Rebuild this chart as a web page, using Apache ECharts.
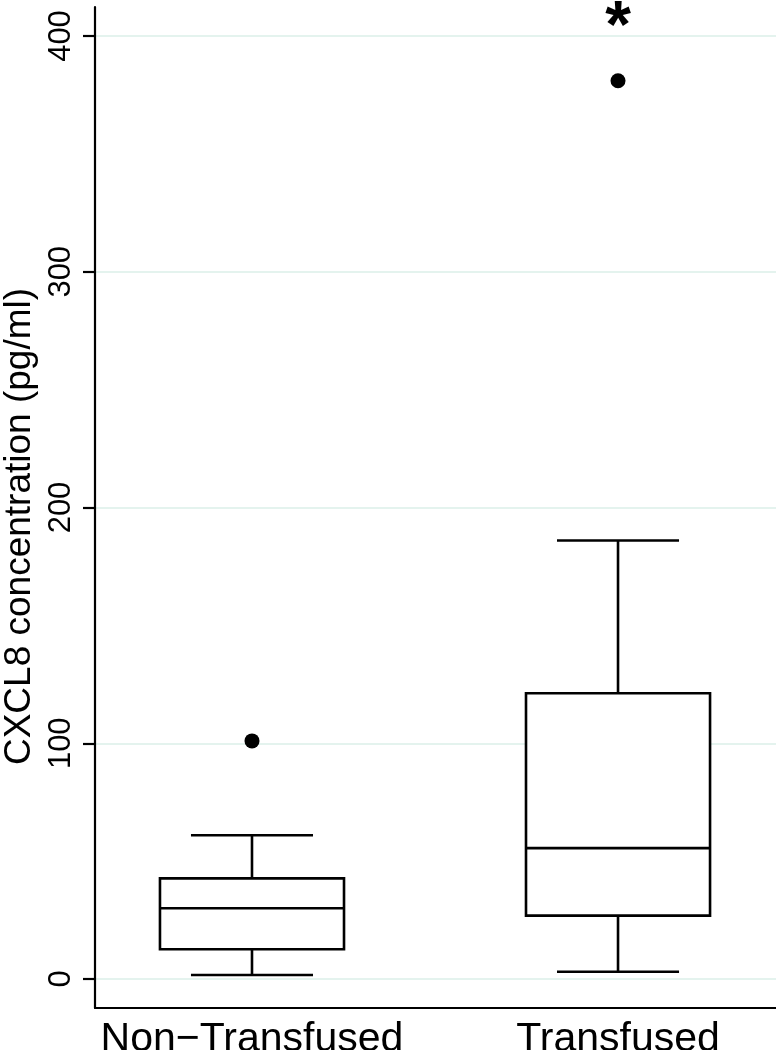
<!DOCTYPE html>
<html>
<head>
<meta charset="utf-8">
<script src="https://cdn.jsdelivr.net/npm/echarts@6/dist/echarts.min.js"></script>
<style>
html,body{margin:0;padding:0;background:#fff;}
#chart{width:776px;height:1050px;}
</style>
</head>
<body>
<div id="chart"></div>
<script>
// ---- data ----
var categories = ['Non\u2212Transfused', 'Transfused'];
var lowWhisker = [1.7, 3.1];
var q1 = [12.6, 26.9];
var median = [30.0, 55.5];
var q3 = [42.7, 121.2];
var highWhisker = [61.0, 186.0];
var outliers = [[0, 101], [1, 381]];
var yTicks = [0, 100, 200, 300, 400];
var annotations = [[1, 403, '*']];
var yTitle = 'CXCL8 concentration (pg/ml)';

var boxData = categories.map(function (c, i) {
  return [i, lowWhisker[i], q1[i], median[i], q3[i], highWhisker[i]];
});

var FONT = "'Liberation Sans', Helvetica, Arial, sans-serif";
var BOX_HALF = 0.2514;
var CAP_HALF = 0.1667;
var LW = 2.6;

var chart = echarts.init(document.getElementById('chart'), null, {renderer: 'canvas'});

chart.setOption({
  backgroundColor: '#ffffff',
  animation: false,
  grid: {left: 95, right: 0, top: 7, bottom: 42, containLabel: false, outerBoundsMode: 'none'},
  xAxis: {
    type: 'value',
    min: -0.4289,
    max: 1.4316,
    axisLine: {show: true, onZero: false, lineStyle: {color: '#000', width: 2.2}},
    axisTick: {show: false},
    splitLine: {show: false},
    axisLabel: {
      customValues: [0, 1],
      formatter: function (v) { return categories[Math.round(v)]; },
      color: '#000', fontFamily: FONT, fontSize: 41, margin: 11
    }
  },
  yAxis: {
    type: 'value',
    min: -12.3,
    max: 412.3,
    name: yTitle,
    nameLocation: 'middle',
    nameGap: 57,
    nameTextStyle: {color: '#000', fontFamily: FONT, fontSize: 37, padding: [0, 38, 0, 0]},
    axisLine: {show: true, onZero: false, lineStyle: {color: '#000', width: 2.2}},
    axisTick: {show: true, customValues: yTicks, length: 12, lineStyle: {color: '#000', width: 2.2}},
    axisLabel: {
      customValues: yTicks, rotate: 90, margin: 18,
      color: '#000', fontFamily: FONT, fontSize: 31
    },
    splitLine: {show: true, lineStyle: {color: '#e4f3ee', width: 2}}
  },
  series: [
    {
      type: 'custom',
      data: boxData,
      renderItem: function (params, api) {
        var x = api.value(0);
        var lo = api.coord([x, api.value(1)]);
        var b1 = api.coord([x, api.value(2)]);
        var md = api.coord([x, api.value(3)]);
        var b3 = api.coord([x, api.value(4)]);
        var hi = api.coord([x, api.value(5)]);
        var left = api.coord([x - BOX_HALF, 0])[0];
        var right = api.coord([x + BOX_HALF, 0])[0];
        var cl = api.coord([x - CAP_HALF, 0])[0];
        var cr = api.coord([x + CAP_HALF, 0])[0];
        var st = {stroke: '#000', lineWidth: LW, fill: null};
        return {
          type: 'group',
          children: [
            {type: 'rect', shape: {x: left, y: b3[1], width: right - left, height: b1[1] - b3[1]}, style: {stroke: '#000', lineWidth: LW, fill: '#fff'}},
            {type: 'line', shape: {x1: left, y1: md[1], x2: right, y2: md[1]}, style: st},
            {type: 'line', shape: {x1: hi[0], y1: hi[1], x2: b3[0], y2: b3[1]}, style: st},
            {type: 'line', shape: {x1: lo[0], y1: lo[1], x2: b1[0], y2: b1[1]}, style: st},
            {type: 'line', shape: {x1: cl, y1: hi[1], x2: cr, y2: hi[1]}, style: st},
            {type: 'line', shape: {x1: cl, y1: lo[1], x2: cr, y2: lo[1]}, style: st}
          ]
        };
      },
      z: 3
    },
    {
      type: 'scatter',
      data: outliers,
      symbol: 'circle',
      symbolSize: 15,
      itemStyle: {color: '#000', opacity: 1},
      z: 4
    },
    {
      type: 'custom',
      data: annotations,
      renderItem: function (params, api) {
        var p = api.coord([api.value(0), api.value(1)]);
        return {
          type: 'text',
          x: p[0], y: p[1],
          style: {text: annotations[params.dataIndex][2], fill: '#000', fontFamily: FONT, fontSize: 66, fontWeight: 'bold', align: 'center', verticalAlign: 'middle'}
        };
      },
      z: 5
    }
  ]
});
</script>
</body>
</html>
